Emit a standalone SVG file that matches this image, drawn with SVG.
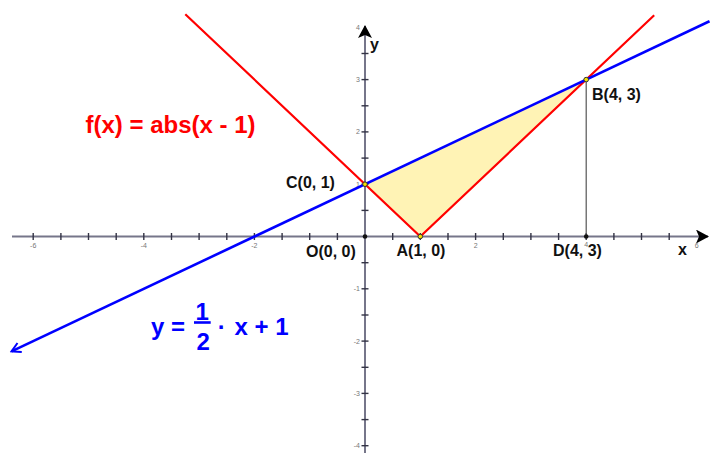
<svg xmlns="http://www.w3.org/2000/svg" width="710" height="456" viewBox="0 0 710 456">
<style>
.axis{stroke:#76768a;stroke-width:2;fill:none}
.tick{stroke:#333344;stroke-width:1.4}
.tl{font-family:"Liberation Sans",Arial,sans-serif;font-size:7px;fill:#777}
.lbl{font-family:"Liberation Sans",Arial,sans-serif;font-weight:bold;font-size:16px;fill:#111}
.pt{fill:#f5e000;stroke:#333;stroke-width:1}
.red{stroke:#ff0000;stroke-width:2.2;fill:none}
.blue{stroke:#0000ff;stroke-width:2.6;fill:none}
.big{font-family:"Liberation Sans",Arial,sans-serif;font-weight:bold;font-size:24px}
</style>
<defs>
<marker id="ah" markerWidth="14" markerHeight="14" refX="12" refY="7" orient="auto" markerUnits="userSpaceOnUse">
<path d="M0,0 L13,7 L0,14 L3,7 Z" fill="#000"/>
</marker>
<marker id="open" markerWidth="12" markerHeight="12" refX="10" refY="6" orient="auto" markerUnits="userSpaceOnUse">
<path d="M1,1 L10,6 L1,11" fill="none" stroke="#0000ff" stroke-width="2"/>
</marker>
</defs>
<rect width="710" height="456" fill="#fff"/>
<polygon id="region" points="365,184.2 420.3,236.5 586.2,79.6" fill="#fff3b5"/>
<g id="axes">
<line class="axis" x1="12" y1="236.5" x2="708" y2="236.5" marker-end="url(#ah)"/>
<line class="axis" x1="365" y1="453" x2="365" y2="26" marker-end="url(#ah)"/>
<g id="xticks" class="tick">
<line x1="33.2" y1="233" x2="33.2" y2="240"/><line x1="60.9" y1="233" x2="60.9" y2="240"/><line x1="88.5" y1="233" x2="88.5" y2="240"/><line x1="116.2" y1="233" x2="116.2" y2="240"/><line x1="143.8" y1="233" x2="143.8" y2="240"/><line x1="171.5" y1="233" x2="171.5" y2="240"/><line x1="199.1" y1="233" x2="199.1" y2="240"/><line x1="226.8" y1="233" x2="226.8" y2="240"/><line x1="254.4" y1="233" x2="254.4" y2="240"/><line x1="282.1" y1="233" x2="282.1" y2="240"/><line x1="309.7" y1="233" x2="309.7" y2="240"/><line x1="337.4" y1="233" x2="337.4" y2="240"/>
<line x1="392.7" y1="233" x2="392.7" y2="240"/><line x1="420.3" y1="233" x2="420.3" y2="240"/><line x1="448" y1="233" x2="448" y2="240"/><line x1="475.6" y1="233" x2="475.6" y2="240"/><line x1="503.3" y1="233" x2="503.3" y2="240"/><line x1="530.9" y1="233" x2="530.9" y2="240"/><line x1="558.6" y1="233" x2="558.6" y2="240"/><line x1="586.2" y1="233" x2="586.2" y2="240"/><line x1="613.9" y1="233" x2="613.9" y2="240"/><line x1="641.5" y1="233" x2="641.5" y2="240"/><line x1="669.2" y1="233" x2="669.2" y2="240"/>
</g>
<g id="yticks" class="tick">
<line x1="361.5" y1="53.5" x2="368.5" y2="53.5"/><line x1="361.5" y1="79.6" x2="368.5" y2="79.6"/><line x1="361.5" y1="105.8" x2="368.5" y2="105.8"/><line x1="361.5" y1="131.9" x2="368.5" y2="131.9"/><line x1="361.5" y1="158.1" x2="368.5" y2="158.1"/><line x1="361.5" y1="184.2" x2="368.5" y2="184.2"/><line x1="361.5" y1="210.4" x2="368.5" y2="210.4"/>
<line x1="361.5" y1="262.7" x2="368.5" y2="262.7"/><line x1="361.5" y1="288.8" x2="368.5" y2="288.8"/><line x1="361.5" y1="315" x2="368.5" y2="315"/><line x1="361.5" y1="341.1" x2="368.5" y2="341.1"/><line x1="361.5" y1="367.3" x2="368.5" y2="367.3"/><line x1="361.5" y1="393.4" x2="368.5" y2="393.4"/><line x1="361.5" y1="419.6" x2="368.5" y2="419.6"/><line x1="361.5" y1="445.7" x2="368.5" y2="445.7"/>
</g>
<g id="xlabels" class="tl" text-anchor="middle">
<text x="33.2" y="248">-6</text><text x="143.8" y="248">-4</text><text x="254.4" y="248">-2</text><text x="475.6" y="248">2</text><text x="586.2" y="247">4</text><text x="696.8" y="248">6</text>
</g>
<g id="ylabels" class="tl" text-anchor="end">
<text x="360" y="30">4</text><text x="360" y="82">3</text><text x="360" y="134.4">2</text><text x="360" y="186.7">1</text><text x="360" y="291.3">-1</text><text x="360" y="343.6">-2</text><text x="360" y="395.9">-3</text><text x="360" y="448.2">-4</text>
</g>
<text class="lbl" x="678" y="255">x</text>
<text class="lbl" x="370" y="50">y</text>
</g>
<g id="connectors">
<line id="BD" x1="586.2" y1="79.6" x2="586.2" y2="236.5" stroke="#555" stroke-width="1.2"/>
<polyline id="f" class="red" points="185.3,14.2 420.3,236.5 654.2,15.3"/>
<line id="g" class="blue" x1="709.5" y1="21.3" x2="11.5" y2="351.4" marker-end="url(#open)"/>
</g>
<g id="node-O"><circle cx="365" cy="236.5" r="2.3" fill="#111"/><text class="lbl" x="306" y="256.5">O(0, 0)</text></g>
<g id="node-A"><circle class="pt" cx="420.3" cy="236.5" r="2.3"/><text class="lbl" x="396.5" y="256">A(1, 0)</text></g>
<g id="node-B"><circle class="pt" cx="586.2" cy="79.6" r="2.3"/><text class="lbl" x="592" y="99.5">B(4, 3)</text></g>
<g id="node-C"><circle class="pt" cx="365" cy="184.2" r="2.3"/><text class="lbl" x="286" y="187.5">C(0, 1)</text></g>
<g id="node-D"><circle cx="586.2" cy="236.5" r="2.3" fill="#111"/><text class="lbl" x="553" y="256">D(4, 3)</text></g>
<g id="label-f"><text class="big" x="85.5" y="133" fill="#ff0000" font-size="25.5">f(x) = abs(x - 1)</text></g>
<g id="label-g" fill="#0000ff">
<text class="big" x="151" y="335">y =</text>
<text class="big" x="202.3" y="319.5" text-anchor="middle" font-size="23">1</text>
<line x1="194" y1="322.5" x2="210.7" y2="322.5" stroke="#0000ff" stroke-width="2.6"/>
<text class="big" x="203.3" y="350" text-anchor="middle" font-size="23">2</text>
<text class="big" x="221.7" y="335" text-anchor="middle">·</text>
<text class="big" x="234.5" y="335">x + 1</text>
</g>
</svg>
